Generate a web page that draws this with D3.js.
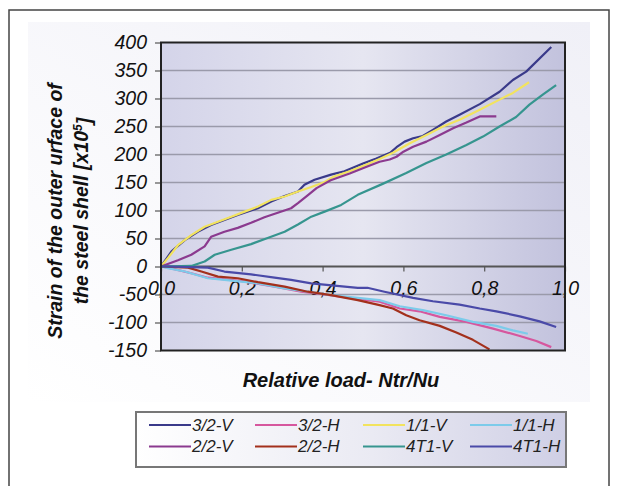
<!DOCTYPE html>
<html><head><meta charset="utf-8">
<script src="https://cdn.jsdelivr.net/npm/d3@7"></script>
<style>body{margin:0;background:#fff}svg{display:block}</style>
</head><body>
<script>
// ---- data ----
const seriesNames = ["3/2-V","3/2-H","1/1-V","1/1-H","2/2-V","2/2-H","4T1-V","4T1-H"];
const seriesColors = ["#3a3a8a","#d6579e","#f2e35e","#7ccbea","#8b3a8f","#a3301c","#36958f","#4a4aa8"];
const xTicks = [0,0.2,0.4,0.6,0.8,1.0];
const yTicks = [-150,-100,-50,0,50,100,150,200,250,300,350,400];

const s3I2V = [[0,0],[0.026,27],[0.059,47],[0.091,62],[0.124,74],[0.157,83],[0.19,92],[0.223,100],[0.24,104],[0.273,116],[0.306,126],[0.339,134],[0.355,146],[0.38,155],[0.421,164],[0.454,170],[0.5,184],[0.533,193],[0.567,203],[0.583,213],[0.603,223],[0.624,229],[0.648,233],[0.673,244],[0.706,259],[0.739,271],[0.789,290],[0.838,312],[0.871,333],[0.904,348],[0.966,392]];
const s3I2H = [[0,0],[0.017,-2],[0.075,-12],[0.116,-20],[0.199,-26],[0.281,-36],[0.347,-45],[0.404,-50],[0.487,-58],[0.541,-63],[0.591,-75],[0.64,-80],[0.69,-90],[0.756,-99],[0.822,-111],[0.888,-124],[0.929,-133],[0.966,-144]];
const s1I1V = [[0,0],[0.017,15],[0.042,38],[0.075,56],[0.108,71],[0.141,80],[0.174,89],[0.207,98],[0.24,107],[0.273,119],[0.306,125],[0.339,134],[0.372,142],[0.405,151],[0.426,160],[0.467,170],[0.509,182],[0.541,192],[0.574,203],[0.616,220],[0.657,235],[0.698,250],[0.739,262],[0.789,280],[0.838,298],[0.871,310],[0.911,329]];
const s1I1H = [[0,0],[0.017,-3],[0.059,-9],[0.116,-21],[0.157,-24],[0.24,-30],[0.306,-39],[0.363,-45],[0.421,-51],[0.487,-56],[0.541,-60],[0.591,-71],[0.648,-78],[0.706,-87],[0.772,-99],[0.83,-106],[0.871,-114],[0.908,-120]];
const s2I2V = [[0,0],[0.042,11],[0.075,21],[0.108,36],[0.124,53],[0.157,62],[0.19,69],[0.223,78],[0.256,88],[0.289,96],[0.322,104],[0.339,113],[0.363,127],[0.385,140],[0.42,154],[0.467,166],[0.509,178],[0.541,187],[0.566,191],[0.583,196],[0.6,205],[0.624,214],[0.657,223],[0.69,235],[0.723,247],[0.756,257],[0.789,268],[0.83,268]];
const s2I2H = [[0,0],[0.067,-2],[0.1,-9],[0.141,-18],[0.19,-21],[0.24,-28],[0.306,-36],[0.363,-45],[0.421,-51],[0.487,-60],[0.541,-69],[0.574,-75],[0.607,-87],[0.64,-96],[0.69,-106],[0.731,-118],[0.772,-131],[0.813,-148]];
const s4T1V = [[0,0],[0.075,1],[0.108,9],[0.133,21],[0.174,30],[0.223,40],[0.264,51],[0.306,62],[0.339,75],[0.372,89],[0.405,98],[0.446,110],[0.487,128],[0.55,148],[0.607,167],[0.657,185],[0.706,200],[0.756,217],[0.797,232],[0.838,250],[0.879,267],[0.912,289],[0.945,307],[0.978,324]];
const s4T1H = [[0,0],[0.017,0],[0.116,-2],[0.157,-9],[0.223,-14],[0.281,-20],[0.322,-24],[0.372,-30],[0.429,-34],[0.487,-38],[0.511,-38],[0.553,-45],[0.624,-56],[0.673,-62],[0.739,-68],[0.789,-75],[0.83,-80],[0.888,-89],[0.937,-98],[0.978,-108]];
const seriesData = [s3I2V,s3I2H,s1I1V,s1I1H,s2I2V,s2I2H,s4T1V,s4T1H];

// ---- drawing ----
const W = 618, H = 486;
const svg = d3.select("body").append("svg").attr("width", W).attr("height", H);
const defs = svg.append("defs");
const g1 = defs.append("linearGradient").attr("id","plotbg").attr("x1","0").attr("x2","1").attr("y1","0").attr("y2","0");
g1.append("stop").attr("offset","0%").attr("stop-color","#d4d4e9");
g1.append("stop").attr("offset","50%").attr("stop-color","#e6e6f1");
g1.append("stop").attr("offset","100%").attr("stop-color","#c2c2dd");
const g2 = defs.append("linearGradient").attr("id","legbg").attr("x1","0").attr("x2","1").attr("y1","0").attr("y2","0");
g2.append("stop").attr("offset","0%").attr("stop-color","#ffffff");
g2.append("stop").attr("offset","55%").attr("stop-color","#eaeaf3");
g2.append("stop").attr("offset","100%").attr("stop-color","#cfcfe5");
const g3 = defs.append("linearGradient").attr("id","areabg").attr("x1","0").attr("x2","1").attr("y1","1").attr("y2","0");
g3.append("stop").attr("offset","0%").attr("stop-color","#ffffff");
g3.append("stop").attr("offset","100%").attr("stop-color","#f0f0f7");

// outer frame
svg.append("rect").attr("x",9).attr("y",10).attr("width",600).attr("height",490)
  .attr("fill","#fff").attr("stroke","#444").attr("stroke-width",1.5);
svg.append("rect").attr("x",28).attr("y",22).attr("width",562).attr("height",380).attr("fill","url(#areabg)");

const x = d3.scaleLinear().domain([0,1]).range([161,565]);
const y = d3.scaleLinear().domain([-150,400]).range([350.5,42.5]);

// plot background
svg.append("rect").attr("x",x(0)).attr("y",y(400)).attr("width",x(1)-x(0)).attr("height",y(-150)-y(400))
  .attr("fill","url(#plotbg)");

// gridlines
svg.append("g").selectAll("line").data(yTicks.filter(d=>d!==0 && d!==-150 && d!==400)).join("line")
  .attr("x1",x(0)).attr("x2",x(1)).attr("y1",d=>y(d)).attr("y2",d=>y(d))
  .attr("stroke","#9a9aaa").attr("stroke-width",1.6);

const tf = "'Liberation Sans', Arial, sans-serif";
// y axis
const yAxis = d3.axisLeft(y).tickValues(yTicks).tickSize(6).tickFormat(d=>d);
const ya = svg.append("g").attr("transform",`translate(${x(0)},0)`).call(yAxis);
ya.select(".domain").remove();
ya.selectAll(".tick line").attr("stroke","#555").attr("stroke-width",1.2);
ya.selectAll(".tick text").attr("x",-14).attr("font-family",tf)
  .attr("font-size",19.5).attr("font-style","italic").attr("fill","#111");

// zero line with x ticks
svg.append("line").attr("x1",x(0)).attr("x2",x(1)).attr("y1",y(0)).attr("y2",y(0))
  .attr("stroke","#555").attr("stroke-width",2);
const xAxis = d3.axisBottom(x).tickValues(xTicks).tickSize(5).tickFormat(d=>d3.format(".1f")(d).replace(".",","));
const xa = svg.append("g").attr("transform",`translate(0,${y(0)})`).call(xAxis);
xa.select(".domain").remove();
xa.selectAll(".tick line").attr("stroke","#555").attr("stroke-width",1.2);
xa.selectAll(".tick text").attr("y",22).attr("dy","0.32em").attr("font-family",tf)
  .attr("font-size",19.5).attr("font-style","italic").attr("fill","#111");

// series
const line = d3.line().x(d=>x(d[0])).y(d=>y(d[1]));
svg.append("g").selectAll("path").data(seriesData).join("path")
  .attr("d",line).attr("fill","none").attr("stroke",(d,i)=>seriesColors[i]).attr("stroke-width",2.2)
  .attr("stroke-linejoin","round");

// plot border
svg.append("rect").attr("x",x(0)).attr("y",y(400)).attr("width",x(1)-x(0)).attr("height",y(-150)-y(400))
  .attr("fill","none").attr("stroke","#222").attr("stroke-width",2);

// axis titles
svg.append("text").attr("x",341).attr("y",380).attr("dy","0.35em").attr("text-anchor","middle")
  .attr("font-family",tf).attr("font-size",20).attr("font-weight","bold").attr("font-style","italic").attr("fill","#111")
  .text("Relative load- Ntr/Nu");
const yt = svg.append("text").attr("transform","translate(55,211) rotate(-90)").attr("text-anchor","middle")
  .attr("font-family",tf).attr("font-size",19.5).attr("font-weight","bold").attr("font-style","italic").attr("fill","#111");
yt.append("tspan").attr("x",0).attr("dy","0.35em").text("Strain of the outer urface of");
yt.append("tspan").attr("x",0).attr("dy","1.33em").text("the steel shell [x10");
yt.append("tspan").attr("dy","-0.45em").attr("font-size",12).text("5");
yt.append("tspan").attr("dy","0.45em").text("]");

// legend
svg.append("rect").attr("x",136).attr("y",412).attr("width",430).attr("height",55)
  .attr("fill","url(#legbg)").attr("stroke","#777").attr("stroke-width",2);
const colX = [149,255,363,470];
const rowY = [425,446.5];
const leg = svg.append("g").selectAll("g").data(seriesNames).join("g")
  .attr("transform",(d,i)=>`translate(${colX[i%4]},${rowY[Math.floor(i/4)]})`);
leg.append("line").attr("x1",0).attr("x2",42).attr("y1",0).attr("y2",0)
  .attr("stroke",(d,i)=>seriesColors[i]).attr("stroke-width",2.2);
leg.append("text").attr("x",43).attr("dy","0.35em").attr("font-family",tf).attr("font-size",17)
  .attr("font-style","italic").attr("fill","#222").text(d=>d);
</script>
</body></html>
